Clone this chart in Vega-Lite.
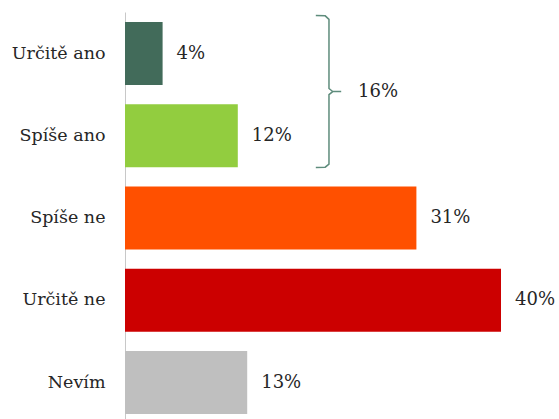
{
  "$schema": "https://vega.github.io/schema/vega-lite/v6.json",
  "autosize": {"type": "none"},
  "padding": {"left": 125, "top": 12, "right": 58, "bottom": 0},
  "width": 376,
  "height": 407,
  "background": "white",
  "config": {"view": {"stroke": null}, "font": "DejaVu Serif"},
  "datasets": {
    "bars": [
      {"cat": "Určitě ano", "pct": 4, "label": "4%", "color": "#426b5a"},
      {"cat": "Spíše ano", "pct": 12, "label": "12%", "color": "#92cd3f"},
      {"cat": "Spíše ne", "pct": 31, "label": "31%", "color": "#ff5000"},
      {"cat": "Určitě ne", "pct": 40, "label": "40%", "color": "#cc0000"},
      {"cat": "Nevím", "pct": 13, "label": "13%", "color": "#bfbfbf"}
    ],
    "brace": [
      {"o": 1, "bx": 20.3, "by": 0.044},
      {"o": 2, "bx": 21.3, "by": 0.047},
      {"o": 3, "bx": 21.7, "by": 0.09},
      {"o": 4, "bx": 21.7, "by": 0.93},
      {"o": 5, "bx": 22.1, "by": 0.968},
      {"o": 6, "bx": 23.0, "by": 0.968},
      {"o": 7, "bx": 22.1, "by": 0.968},
      {"o": 8, "bx": 21.7, "by": 1.005},
      {"o": 9, "bx": 21.7, "by": 1.85},
      {"o": 10, "bx": 21.3, "by": 1.887},
      {"o": 11, "bx": 20.3, "by": 1.89}
    ],
    "sum": [{"bx": 24.8, "by": 0.968, "label": "16%"}]
  },
  "layer": [
    {
      "data": {"name": "bars"},
      "layer": [
        {
          "mark": {"type": "bar"},
          "encoding": {
            "y": {
              "field": "cat", "type": "nominal", "sort": null,
              "scale": {"paddingInner": 0.234, "paddingOuter": 0.0912, "align": 0.667},
              "axis": {"title": null, "ticks": false, "labelPadding": 20, "labelFontSize": 17.5, "labelColor": "#262626", "labelFont": "DejaVu Serif", "domainColor": "#c8c8c8", "domainWidth": 1, "grid": false}
            },
            "x": {"field": "pct", "type": "quantitative", "scale": {"domain": [0, 40], "nice": false}, "axis": null},
            "color": {"field": "color", "type": "nominal", "scale": null}
          }
        },
        {
          "mark": {"type": "text", "align": "left", "baseline": "middle", "dx": 14, "fontSize": 18, "color": "#262626", "font": "DejaVu Serif"},
          "encoding": {
            "y": {"field": "cat", "type": "nominal", "sort": null},
            "x": {"field": "pct", "type": "quantitative"},
            "text": {"field": "label"}
          }
        }
      ]
    },
    {
      "layer": [
        {
          "data": {"name": "brace"},
          "mark": {"type": "line", "color": "#5e8c7c", "strokeWidth": 1.5, "interpolate": "linear"},
          "encoding": {
            "x": {"field": "bx", "type": "quantitative", "scale": {"domain": [0, 40], "nice": false}, "axis": null},
            "y": {"field": "by", "type": "quantitative", "scale": {"domain": [0, 4.95], "nice": false, "zero": false, "reverse": true}, "axis": null},
            "order": {"field": "o"}
          }
        },
        {
          "data": {"name": "sum"},
          "mark": {"type": "text", "align": "left", "baseline": "middle", "fontSize": 18, "color": "#262626", "font": "DejaVu Serif"},
          "encoding": {
            "x": {"field": "bx", "type": "quantitative"},
            "y": {"field": "by", "type": "quantitative"},
            "text": {"field": "label"}
          }
        }
      ]
    }
  ],
  "resolve": {"scale": {"y": "independent"}, "axis": {"y": "independent"}}
}
